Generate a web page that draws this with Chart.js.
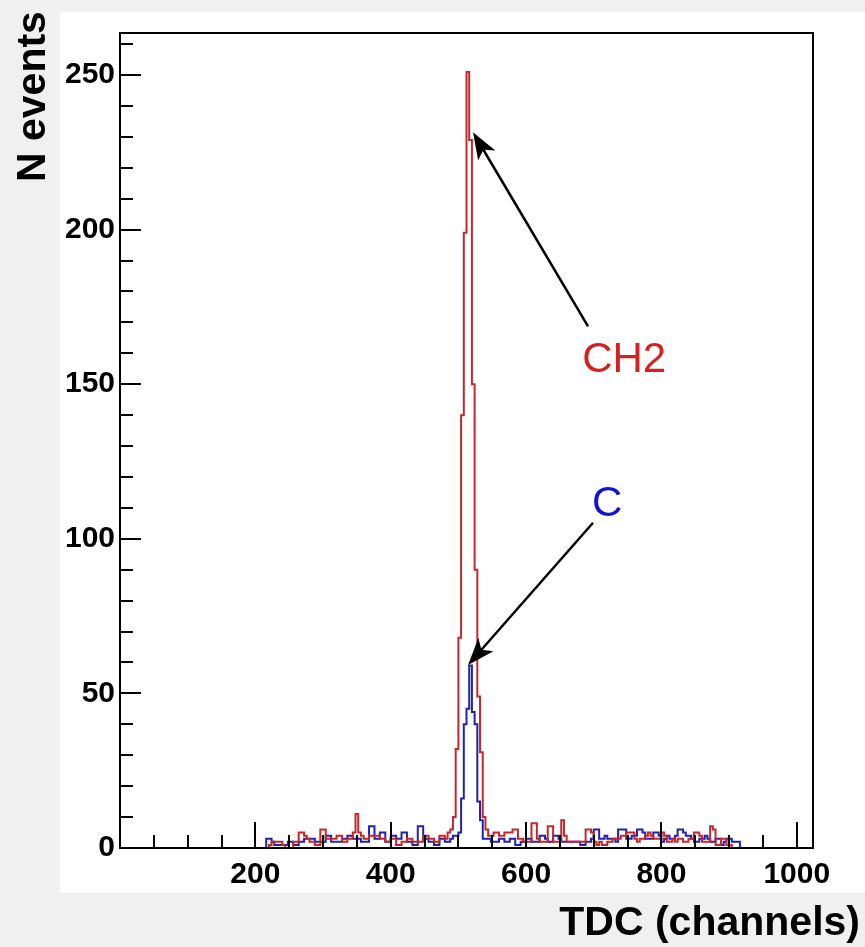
<!DOCTYPE html>
<html>
<head>
<meta charset="utf-8">
<script src="https://cdn.jsdelivr.net/npm/chart.js@4.4.1/dist/chart.umd.min.js"></script>
<style>
  html, body { margin: 0; padding: 0; background: #f0f0f0; }
  canvas { display: block; }
</style>
</head>
<body>
<canvas id="tdcChart" width="865" height="947"></canvas>
<script>
// histogram bins: low edge = binStart + i * binWidth (TDC channels)
const binStart = 208;
const binWidth = 4;

// CH2 target (red)
const ch2Counts = [
  0, 0, 0, 1, 2, 2, 2, 2, 1, 0,
  0, 0, 2, 2, 5, 5, 4, 3, 2, 2,
  1, 1, 6, 6, 3, 3, 3, 3, 4, 4,
  2, 2, 3, 3, 5, 11, 5, 4, 3, 3,
  4, 4, 4, 4, 3, 3, 2, 2, 3, 3,
  1, 1, 2, 2, 3, 3, 2, 2, 2, 2,
  4, 4, 3, 3, 2, 2, 4, 4, 3, 5,
  6, 10, 32, 68, 140, 199, 251, 229, 150, 90,
  49, 31, 10, 6, 4, 4, 5, 5, 4, 4,
  5, 5, 5, 6, 6, 3, 3, 2, 2, 2,
  8, 8, 3, 2, 2, 2, 7, 7, 2, 2,
  2, 9, 4, 2, 2, 2, 2, 2, 2, 2,
  6, 6, 5, 2, 1, 2, 1, 1, 2, 2,
  3, 3, 3, 4, 4, 5, 5, 5, 3, 2,
  3, 3, 4, 5, 4, 3, 3, 3, 5, 4,
  2, 2, 3, 2, 3, 3, 2, 2, 3, 3,
  5, 5, 4, 2, 2, 2, 7, 6, 1, 1,
  3, 3, 1, 1, 0, 0, 0
];

// C target (blue)
const cCounts = [
  0, 0, 3, 3, 2, 1, 1, 1, 1, 1,
  2, 2, 1, 1, 2, 2, 3, 3, 3, 3,
  2, 2, 2, 2, 4, 4, 2, 2, 2, 2,
  3, 3, 4, 4, 3, 3, 3, 2, 2, 2,
  7, 7, 3, 3, 5, 5, 2, 2, 4, 4,
  3, 3, 5, 5, 2, 2, 1, 1, 7, 7,
  3, 3, 2, 2, 1, 1, 3, 3, 2, 2,
  3, 4, 4, 5, 16, 40, 45, 59, 44, 40,
  15, 9, 3, 3, 3, 2, 2, 2, 3, 3,
  2, 2, 3, 3, 1, 1, 2, 2, 3, 3,
  2, 2, 2, 4, 4, 3, 2, 2, 4, 4,
  3, 2, 2, 2, 2, 2, 2, 2, 1, 1,
  2, 2, 3, 6, 6, 3, 3, 4, 3, 3,
  3, 2, 6, 6, 6, 3, 3, 4, 4, 6,
  6, 5, 3, 3, 3, 5, 5, 4, 2, 3,
  4, 3, 3, 4, 6, 6, 5, 4, 4, 3,
  2, 2, 3, 3, 4, 3, 2, 2, 3, 3,
  1, 2, 3, 3, 2, 2, 2
];

const xTickLabels = [200, 400, 600, 800, 1000];
const yTickLabels = [0, 50, 100, 150, 200, 250];
const xRange = [0, 1024];
const yRange = [0, 263.6];

// arrow annotations, in data units
const annotations = [
  { text: "CH2", color: "#d42020", at: [745, 157.7], from: [691.6, 168.7], to: [521.6, 231.5] },
  { text: "C", color: "#1212d0", at: [719.7, 111], from: [699, 105.2], to: [514.3, 59.2] },
];

const FONT = "'Liberation Sans', Arial, Helvetica, sans-serif";

function toSteps(counts) {
  const pts = [{ x: xRange[0], y: 0 }];
  counts.forEach((v, i) => pts.push({ x: binStart + i * binWidth, y: v }));
  pts.push({ x: binStart + counts.length * binWidth, y: 0 });
  pts.push({ x: xRange[1], y: 0 });
  return pts;
}

const backgroundPlugin = {
  id: "background",
  beforeDraw(chart) {
    const ctx = chart.ctx;
    ctx.save();
    ctx.fillStyle = "#f0f0f0";
    ctx.fillRect(0, 0, chart.width, chart.height);
    ctx.fillStyle = "#ffffff";
    ctx.fillRect(60, 12, chart.width - 60, 881);
    ctx.restore();
  },
};

// ROOT style frame with inside tick marks
const framePlugin = {
  id: "frame",
  afterDatasetsDraw(chart) {
    const { ctx, chartArea: a, scales } = chart;
    ctx.save();
    ctx.strokeStyle = "#000";
    ctx.lineWidth = 2;
    ctx.beginPath();
    for (let v = 50; v <= 1000; v += 50) {
      const px = Math.round(scales.x.getPixelForValue(v));
      const len = v % 200 === 0 ? 26 : 13;
      ctx.moveTo(px, a.bottom);
      ctx.lineTo(px, a.bottom - len);
    }
    for (let v = 10; v <= 260; v += 10) {
      const py = Math.round(scales.y.getPixelForValue(v));
      const len = v % 50 === 0 ? 21 : 13;
      ctx.moveTo(a.left, py);
      ctx.lineTo(a.left + len, py);
    }
    ctx.stroke();
    ctx.strokeRect(a.left, a.top, a.right - a.left, a.bottom - a.top);
    ctx.restore();
  },
};

const labelsPlugin = {
  id: "labels",
  afterDraw(chart) {
    const { ctx, scales } = chart;
    ctx.save();

    annotations.forEach((an) => {
      const x0 = scales.x.getPixelForValue(an.from[0]);
      const y0 = scales.y.getPixelForValue(an.from[1]);
      const x1 = scales.x.getPixelForValue(an.to[0]);
      const y1 = scales.y.getPixelForValue(an.to[1]);
      const ang = Math.atan2(y1 - y0, x1 - x0);
      const headLen = 27, headW = 10;
      ctx.strokeStyle = "#000";
      ctx.fillStyle = "#000";
      ctx.lineWidth = 2.5;
      ctx.beginPath();
      ctx.moveTo(x0, y0);
      ctx.lineTo(x1 - Math.cos(ang) * headLen * 0.7, y1 - Math.sin(ang) * headLen * 0.7);
      ctx.stroke();
      // arrow head
      const bx = x1 - Math.cos(ang) * headLen;
      const by = y1 - Math.sin(ang) * headLen;
      const nx = x1 - Math.cos(ang) * headLen * 0.75;
      const ny = y1 - Math.sin(ang) * headLen * 0.75;
      ctx.beginPath();
      ctx.moveTo(x1, y1);
      ctx.lineTo(bx + Math.sin(ang) * headW, by - Math.cos(ang) * headW);
      ctx.lineTo(nx, ny);
      ctx.lineTo(bx - Math.sin(ang) * headW, by + Math.cos(ang) * headW);
      ctx.closePath();
      ctx.fill();

      ctx.fillStyle = an.color;
      ctx.font = "42px " + FONT;
      ctx.textAlign = "center";
      ctx.textBaseline = "middle";
      ctx.fillText(an.text, scales.x.getPixelForValue(an.at[0]), scales.y.getPixelForValue(an.at[1]));
    });

    // axis titles
    ctx.fillStyle = "#000";
    ctx.font = "bold 41px " + FONT;
    ctx.textAlign = "right";
    ctx.textBaseline = "alphabetic";
    ctx.fillText("TDC (channels)", 860, 935);

    ctx.save();
    ctx.translate(45, 182);
    ctx.rotate(-Math.PI / 2);
    ctx.textAlign = "left";
    ctx.fillText("N events", 0, 0);
    ctx.restore();

    ctx.restore();
  },
};

const ctx = document.getElementById("tdcChart").getContext("2d");

new Chart(ctx, {
  type: "line",
  data: {
    datasets: [
      {
        label: "CH2",
        data: toSteps(ch2Counts),
        borderColor: "#c4282c",
        borderWidth: 2,
        stepped: true,
        pointRadius: 0,
        fill: false,
      },
      {
        label: "C",
        data: toSteps(cCounts),
        borderColor: "#2222aa",
        borderWidth: 2,
        stepped: true,
        pointRadius: 0,
        fill: false,
      },
    ],
  },
  options: {
    responsive: false,
    animation: false,
    layout: { padding: { left: 60, top: 33, right: 52, bottom: 0 } },
    plugins: {
      legend: { display: false },
      tooltip: { enabled: false },
    },
    scales: {
      x: {
        type: "linear",
        min: xRange[0],
        max: xRange[1],
        grid: { display: false, drawTicks: false },
        border: { display: false },
        ticks: {
          color: "#000",
          padding: 9,
          maxRotation: 0,
          autoSkip: false,
          font: { family: FONT, size: 30, weight: "bold" },
          callback: (v) => String(v),
        },
        afterBuildTicks: (scale) => {
          scale.ticks = xTickLabels.map((v) => ({ value: v }));
        },
        afterFit: (scale) => {
          scale.height = 99;
        },
      },
      y: {
        type: "linear",
        min: yRange[0],
        max: yRange[1],
        grid: { display: false, drawTicks: false },
        border: { display: false },
        ticks: {
          color: "#000",
          padding: 5,
          font: { family: FONT, size: 30, weight: "bold" },
          callback: (v) => String(v),
        },
        afterBuildTicks: (scale) => {
          scale.ticks = yTickLabels.map((v) => ({ value: v }));
        },
        afterFit: (scale) => {
          scale.width = 60;
        },
      },
    },
  },
  plugins: [backgroundPlugin, framePlugin, labelsPlugin],
});
</script>
</body>
</html>
